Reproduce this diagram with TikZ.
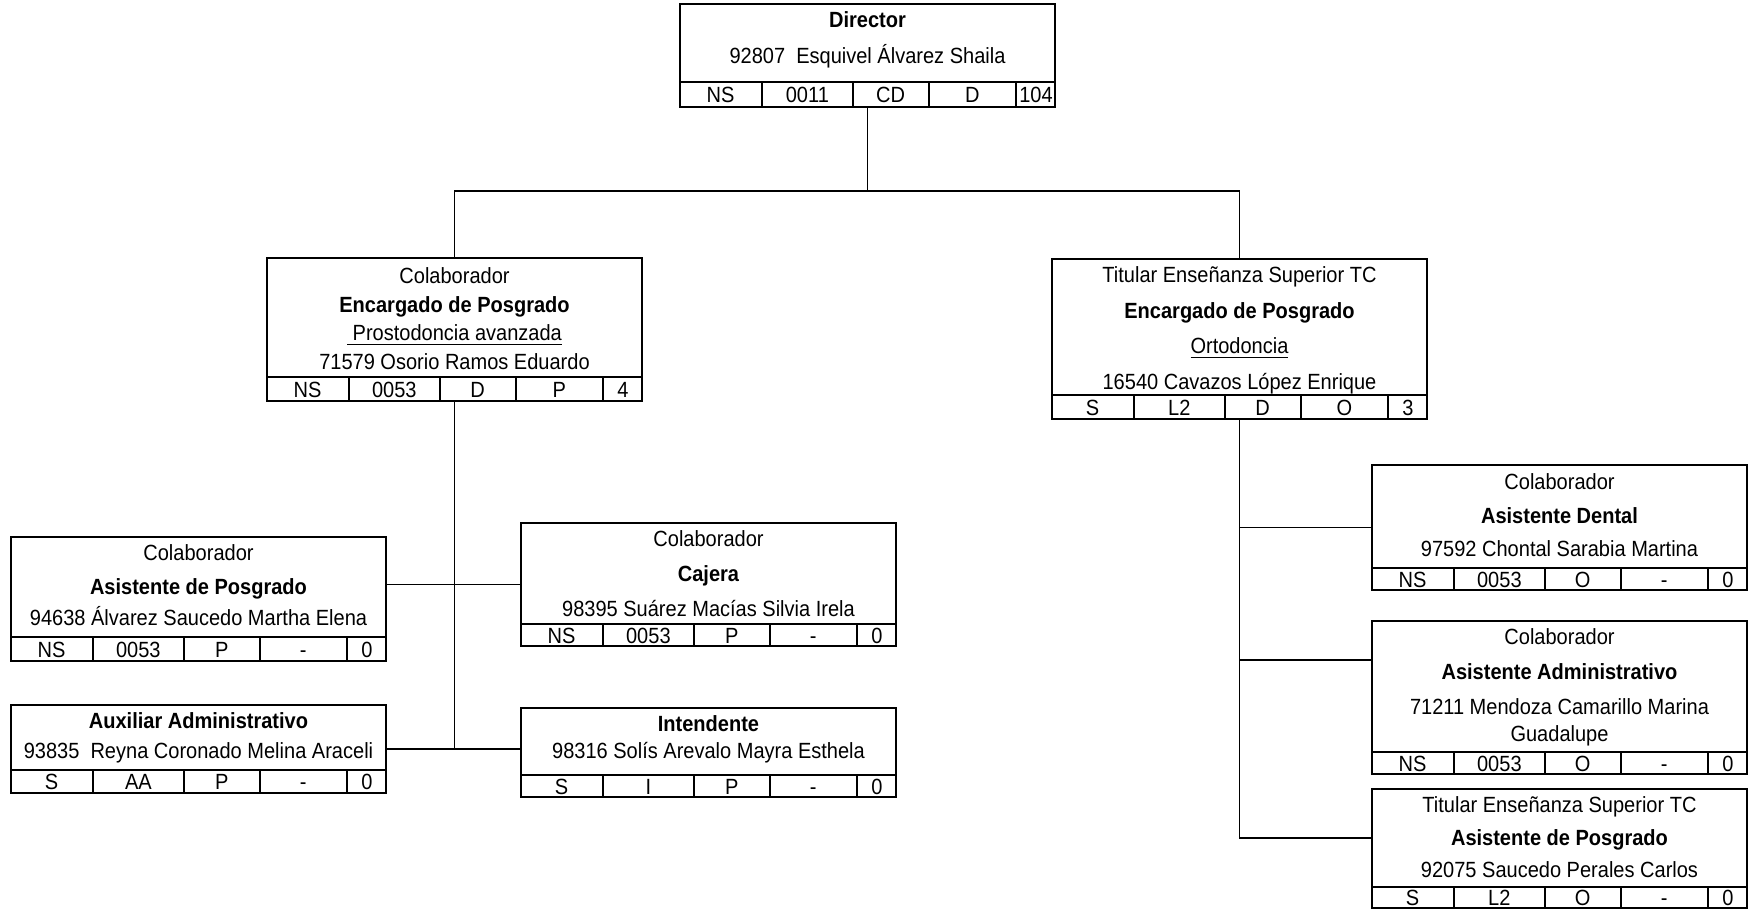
\documentclass[tikz,border=0pt]{standalone}
\usepackage{fontspec}
\setmainfont{Liberation Sans}[FakeStretch=0.91]
\usetikzlibrary{fit,calc}
\tikzset{
  box/.style={draw, line width=1pt, inner sep=0pt},
  rowline/.style={line width=1pt},
  conn/.style={line width=0.9pt},
  txt/.style={inner sep=0pt, font=\fontsize{11pt}{13pt}\selectfont, text height=7.9pt, text depth=0pt},
}
% #1 box name, #2 row top (px), #3..#7 cell texts
\newcommand\cellrow[7]{%
  \path (#1.west) coordinate (#1W) (#1.east) coordinate (#1E)
        ($(0,#2)!0.5!(#1.south)$) coordinate (#1M);
  \draw[rowline] (#1W |- 0,#2) -- (#1E |- 0,#2);
  \foreach \f [count=\i] in {0.22,0.461,0.662,0.894}{
    \path ($(#1W)!\f!(#1E)$) coordinate (#1d\i);
    \draw[rowline] (#1d\i |- 0,#2) -- (#1d\i |- #1.south);
  }
  \foreach \f [count=\i] in {0.11,0.3405,0.5615,0.778,0.947}
    \path ($(#1W)!\f!(#1E)$) coordinate (#1x\i);
  \node[txt] (#1c1) at (#1x1 |- #1M) {#3};
  \node[txt] (#1c2) at (#1x2 |- #1M) {#4};
  \node[txt] (#1c3) at (#1x3 |- #1M) {#5};
  \node[txt] (#1c4) at (#1x4 |- #1M) {#6};
  \node[txt] (#1c5) at (#1x5 |- #1M) {#7};
}
\begin{document}
\begin{tikzpicture}[x=0.5pt,y=-0.5pt]
\useasboundingbox (0,0) rectangle (1752,912);

% boxes
\node[box, fit={(680,4)(1055,107)}] (dir) {};
\node[box, fit={(267,258)(642,401)}] (encL) {};
\node[box, fit={(1052,259)(1427,419)}] (encR) {};
\node[box, fit={(11,537)(386,661)}] (asisP) {};
\node[box, fit={(11,705)(386,793)}] (aux) {};
\node[box, fit={(521,523)(896,646)}] (caj) {};
\node[box, fit={(521,708)(896,797)}] (int) {};
\node[box, fit={(1372,465)(1747,590)}] (dent) {};
\node[box, fit={(1372,621)(1747,774)}] (adm) {};
\node[box, fit={(1372,789)(1747,908)}] (tit) {};

% Director
\node[txt] (dirT1) at (dir.north |- 0,20) {\bfseries Director};
\node[txt] (dirT2) at (dir.north |- 0,56) {92807\ \ Esquivel Álvarez Shaila};
\cellrow{dir}{82}{NS}{0011}{CD}{D}{104}

% Left Encargado
\node[txt] (encLT1) at (encL.north |- 0,276) {Colaborador};
\node[txt] (encLT2) at (encL.north |- 0,305) {\bfseries Encargado de Posgrado};
\node[txt] (encLT3) at (encL.north |- 0,333) {\underline{\ Prostodoncia avanzada}};
\node[txt] (encLT4) at (encL.north |- 0,362) {71579 Osorio Ramos Eduardo};
\cellrow{encL}{377}{NS}{0053}{D}{P}{4}

% Right Encargado
\node[txt] (encRT1) at (encR.north |- 0,275) {Titular Enseñanza Superior TC};
\node[txt] (encRT2) at (encR.north |- 0,311) {\bfseries Encargado de Posgrado};
\node[txt] (encRT3) at (encR.north |- 0,346) {\underline{Ortodoncia}};
\node[txt] (encRT4) at (encR.north |- 0,382) {16540 Cavazos López Enrique};
\cellrow{encR}{395}{S}{L2}{D}{O}{3}

% Asistente de Posgrado
\node[txt] (asisPT1) at (asisP.north |- 0,553) {Colaborador};
\node[txt] (asisPT2) at (asisP.north |- 0,587) {\bfseries Asistente de Posgrado};
\node[txt] (asisPT3) at (asisP.north |- 0,618) {94638 Álvarez Saucedo Martha Elena};
\cellrow{asisP}{637}{NS}{0053}{P}{-}{0}

% Auxiliar
\node[txt] (auxT1) at (aux.north |- 0,721) {\bfseries Auxiliar Administrativo};
\node[txt] (auxT2) at (aux.north |- 0,751) {93835\ \ Reyna Coronado Melina Araceli};
\cellrow{aux}{770}{S}{AA}{P}{-}{0}

% Cajera
\node[txt] (cajT1) at (caj.north |- 0,539) {Colaborador};
\node[txt] (cajT2) at (caj.north |- 0,574) {\bfseries Cajera};
\node[txt] (cajT3) at (caj.north |- 0,609) {98395 Suárez Macías Silvia Irela};
\cellrow{caj}{624}{NS}{0053}{P}{-}{0}

% Intendente
\node[txt] (intT1) at (int.north |- 0,724) {\bfseries Intendente};
\node[txt] (intT2) at (int.north |- 0,751) {98316 Solís Arevalo Mayra Esthela};
\cellrow{int}{775}{S}{I}{P}{-}{0}

% Asistente Dental
\node[txt] (dentT1) at (dent.north |- 0,482) {Colaborador};
\node[txt] (dentT2) at (dent.north |- 0,516) {\bfseries Asistente Dental};
\node[txt] (dentT3) at (dent.north |- 0,549) {97592 Chontal Sarabia Martina};
\cellrow{dent}{568}{NS}{0053}{O}{-}{0}

% Asistente Administrativo
\node[txt] (admT1) at (adm.north |- 0,637) {Colaborador};
\node[txt] (admT2) at (adm.north |- 0,672) {\bfseries Asistente Administrativo};
\node[txt] (admT3) at (adm.north |- 0,707) {71211 Mendoza Camarillo Marina};
\node[txt] (admT4) at (adm.north |- 0,734) {Guadalupe};
\cellrow{adm}{752}{NS}{0053}{O}{-}{0}

% Titular / Asistente de Posgrado
\node[txt] (titT1) at (tit.north |- 0,805) {Titular Enseñanza Superior TC};
\node[txt] (titT2) at (tit.north |- 0,838) {\bfseries Asistente de Posgrado};
\node[txt] (titT3) at (tit.north |- 0,870) {92075 Saucedo Perales Carlos};
\cellrow{tit}{887}{S}{L2}{O}{-}{0}

% connectors
\draw[conn] (dir.south) -- ++(0,83) coordinate (j0);
\draw[conn] (j0) -| (encL.north);
\draw[conn] (j0) -| (encR.north);

\coordinate (jL2) at (encL.south |- aux.east);
\draw[conn] (encL.south) -- (jL2);
\draw[conn] (asisP.east |- caj.west) -- (caj.west);
\draw[conn] (aux.east) -- (int.west |- aux.east);

\coordinate (jR3) at (encR.south |- 0,838);
\draw[conn] (encR.south) -- (jR3) -- (tit.west |- jR3);
\draw[conn] (encR.south |- dent.west) -- (dent.west);
\coordinate (jR2) at (encR.south |- 0,660);
\draw[conn] (jR2) -- (adm.west |- jR2);
\end{tikzpicture}
\end{document}
